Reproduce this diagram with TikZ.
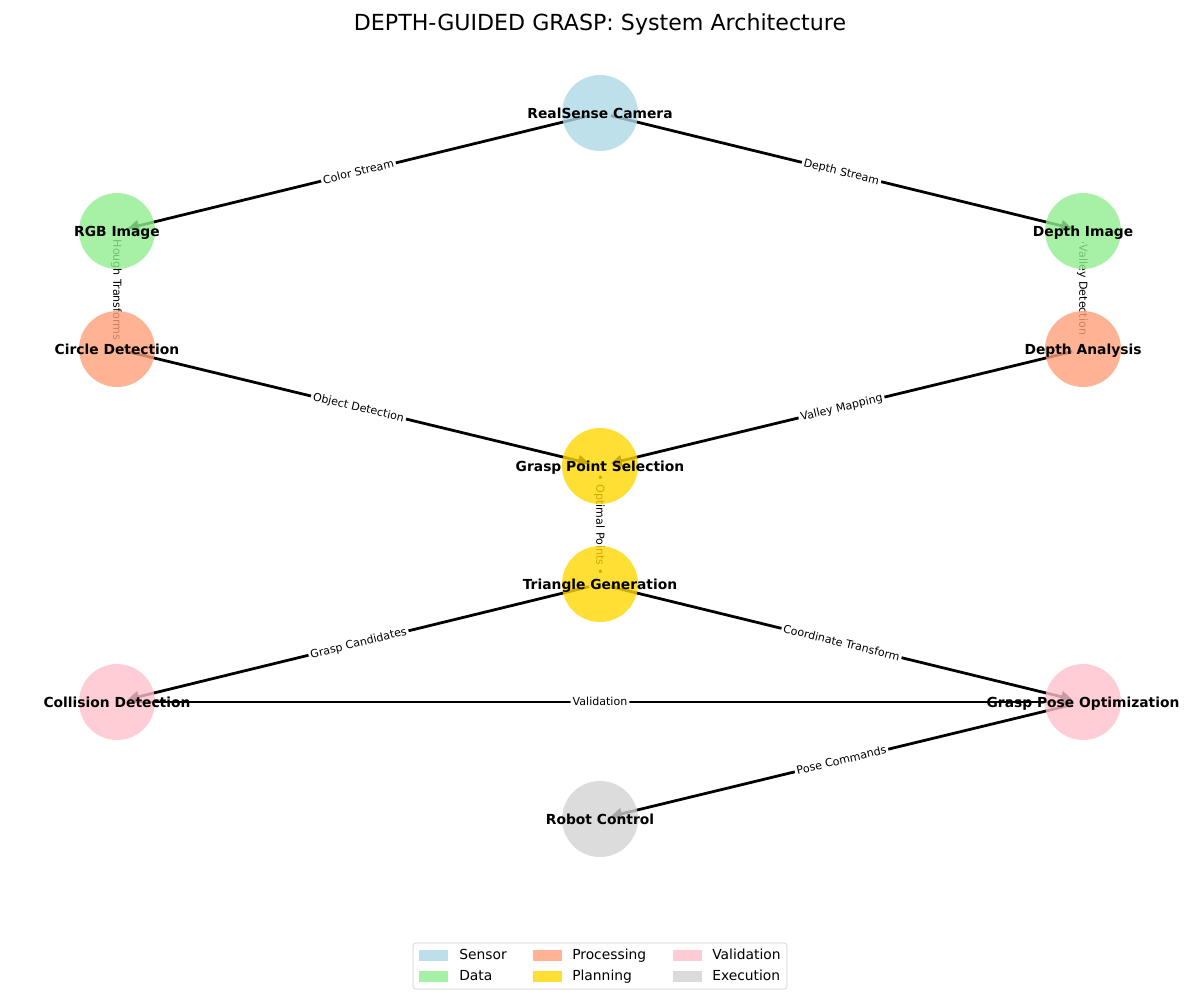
\documentclass[tikz,border=0pt]{standalone}
\usepackage{fontspec}
\setmainfont{DejaVu Sans}
\usetikzlibrary{arrows.meta,backgrounds}
\definecolor{sensorblue}{HTML}{ADD8E6}
\definecolor{datagreen}{HTML}{90EE90}
\definecolor{procsalmon}{HTML}{FFA07A}
\definecolor{plangold}{HTML}{FFD700}
\definecolor{valpink}{HTML}{FFC0CB}
\definecolor{execgray}{HTML}{D3D3D3}

\tikzset{
	comp/.style={circle, minimum size=54.7bp, inner sep=0pt, fill opacity=0.8, text opacity=1},
	every label/.style={font=\bfseries\fontsize{10}{12}\selectfont, text height=0.97em, text depth=0.24em, text opacity=1, fill opacity=1, inner sep=0pt},
	flow/.style={line width=2bp, -{Triangle[length=8bp,width=8bp]}, shorten <=8bp, shorten >=8bp},
	lbl/.style={fill=white, rounded corners=2bp, inner sep=1.5bp, font=\fontsize{8}{9}\selectfont, text height=0.76em, text depth=0.24em, sloped},
	key/.style={anchor=west, inner sep=0pt, font=\fontsize{10}{12}\selectfont, text height=0.76em, text depth=0.24em}
}

\begin{document}
\begin{tikzpicture}[x=0.72bp, y=-0.72bp]
	\useasboundingbox (0, 0) rectangle (1200, 1000);
	\node [font=\fontsize{16}{19}\selectfont] (title) at (600, 24) {DEPTH-GUIDED GRASP: System Architecture};
	
	\node [comp, fill=sensorblue, label=center:RealSense Camera] (cam) at (600, 113) {};
	
	\node [comp, fill=datagreen, label=center:RGB Image] (rgb) at (117, 231) {};
	\node [comp, fill=datagreen, label=center:Depth Image] (depth) at (1083, 231) {};
	
	\node [comp, fill=procsalmon, label=center:Circle Detection] (circ) at (117, 349) {};
	\node [comp, fill=procsalmon, label=center:Depth Analysis] (danal) at (1083, 349) {};
	
	\node [comp, fill=plangold, label=center:Grasp Point Selection] (gps) at (600, 466) {};
	\node [comp, fill=plangold, label=center:Triangle Generation] (tri) at (600, 584) {};
	
	\node [comp, fill=valpink, label=center:Collision Detection] (coll) at (117, 702) {};
	\node [comp, fill=valpink, label=center:Grasp Pose Optimization] (gpo) at (1083, 702) {};
	
	\node [comp, fill=execgray, label=center:Robot Control] (robot) at (600, 819) {};
	
	% connectors sit under the circles
	\begin{scope}[on background layer]
		\draw [flow] (cam.center) to node [lbl] {Color Stream} (rgb.center);
		\draw [flow] (cam.center) to node [lbl] {Depth Stream} (depth.center);
		\draw [flow] (rgb.center) to node [lbl] {Hough Transforms} (circ.center);
		\draw [flow] (depth.center) to node [lbl] {Valley Detection} (danal.center);
		\draw [flow] (circ.center) to node [lbl] {Object Detection} (gps.center);
		\draw [flow] (danal.center) to node [lbl] {Valley Mapping} (gps.center);
		\draw [flow] (gps.center) to node [lbl] {• Optimal Points •} (tri.center);
		\draw [flow] (tri.center) to node [lbl] {Grasp Candidates} (coll.center);
		\draw [flow] (tri.center) to node [lbl] {Coordinate Transform} (gpo.center);
		\draw [flow] (coll.center) to node [lbl] {Validation} (gpo.center);
		\draw [flow] (gpo.center) to node [lbl] {Pose Commands} (robot.center);
	\end{scope}
	
	% legend
	\draw [draw=black!20, fill=white, rounded corners=2bp] (413, 943) rectangle (787, 989);
	\fill [sensorblue, opacity=0.8] (419, 950) rectangle (448, 961);
	\fill [datagreen, opacity=0.8] (419, 971) rectangle (448, 982);
	\fill [procsalmon, opacity=0.8] (533, 950) rectangle (562, 961);
	\fill [plangold, opacity=0.8] (533, 971) rectangle (562, 982);
	\fill [valpink, opacity=0.8] (673, 950) rectangle (702, 961);
	\fill [execgray, opacity=0.8] (673, 971) rectangle (702, 982);
	\node [key] (ksensor) at (459, 955.5) {Sensor};
	\node [key] (kdata) at (459, 976.5) {Data};
	\node [key] (kproc) at (572, 955.5) {Processing};
	\node [key] (kplan) at (572, 976.5) {Planning};
	\node [key] (kval) at (712, 955.5) {Validation};
	\node [key] (kexec) at (712, 976.5) {Execution};
\end{tikzpicture}
\end{document}
